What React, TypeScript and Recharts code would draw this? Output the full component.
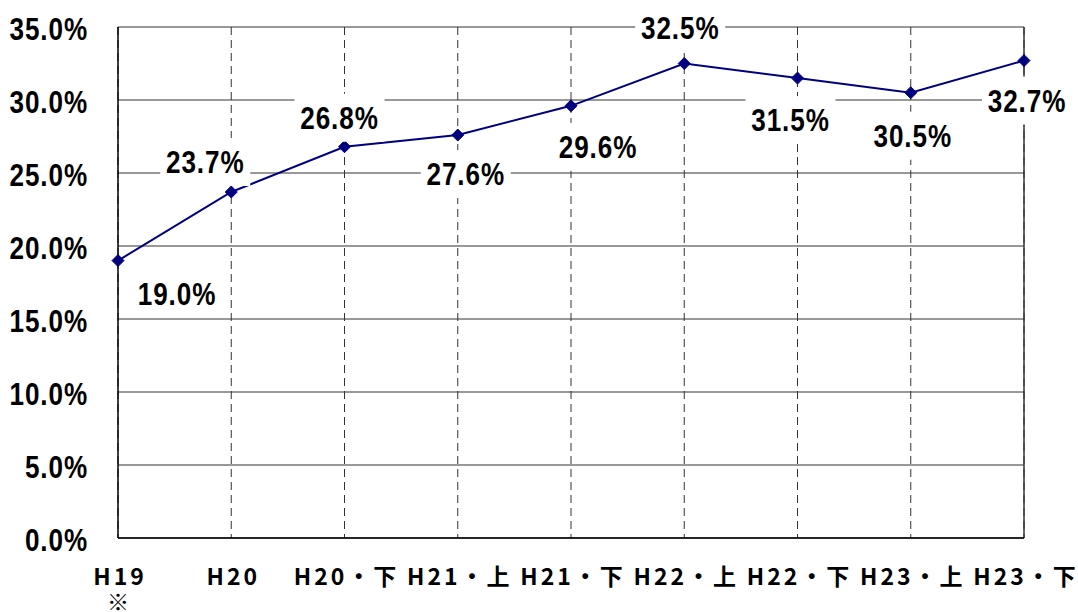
import { LineChart, Line, XAxis, YAxis, CartesianGrid, ReferenceLine } from "recharts";

const categories = ["H19", "H20", "H20・下", "H21・上", "H21・下", "H22・上", "H22・下", "H23・上", "H23・下"];
const notes = ["※", "", "", "", "", "", "", "", ""];
const rates = [19.0, 23.7, 26.8, 27.6, 29.6, 32.5, 31.5, 30.5, 32.7];
const yTicks = [0, 5, 10, 15, 20, 25, 30, 35];

// where each value label sits relative to its point (dx, dy)
const labelOffsets = [
    [59, 33],
    [-26, -30],
    [-5, -29],
    [8, 39],
    [27, 41],
    [-4, -35],
    [-7, 42],
    [2, 43],
    [3, 40],
];

const NUM_FONT = "'Liberation Sans', Arial, sans-serif";
const TICK_FONT = "'Noto Sans CJK JP', 'DejaVu Sans', sans-serif";

const data = categories.map((c, i) => ({ name: c, rate: rates[i] }));

const pct = (v: number) => `${v.toFixed(1)}%`;

// bold figures, squeezed a little sideways like the original
function NarrowText({ x, y, anchor, children }: { x: number; y: number; anchor: "start" | "middle" | "end"; children: string }) {
    return (
        <text
            transform={`translate(${x},${y}) scale(0.9,1.05)`}
            dy="0.36em"
            textAnchor={anchor}
            fontFamily={NUM_FONT}
            fontWeight="bold"
            fontSize={29}
            letterSpacing={1}
            fill="#000"
        >
            {children}
        </text>
    );
}

function Diamond(props: any) {
    const { cx, cy } = props;
    if (cx == null || cy == null) return null;
    const r = 6;
    return (
        <polygon
            points={`${cx},${cy - r} ${cx + r},${cy} ${cx},${cy + r} ${cx - r},${cy}`}
            fill="#000080"
            stroke="#000080"
        />
    );
}

function ValueLabel(props: any) {
    const { x, y, value, index } = props;
    const [dx, dy] = labelOffsets[index] || [0, -30];
    const cx = x + dx;
    const cy = y + dy;
    return (
        <g>
            <rect x={cx - 45} y={cy - 24} width={90} height={48} fill="#fff" />
            <NarrowText x={cx} y={cy} anchor="middle">
                {pct(Number(value))}
            </NarrowText>
        </g>
    );
}

function YTick(props: any) {
    const { x, y, payload } = props;
    return (
        <NarrowText x={x} y={y + 2} anchor="end">
            {pct(payload.value)}
        </NarrowText>
    );
}

function XTick(props: any) {
    const { x, y, payload, index } = props;
    const note = notes[index];
    return (
        <g transform={`translate(${x},${y})`}>
            <text
                x={2}
                y={47}
                textAnchor="middle"
                fontFamily={TICK_FONT}
                fontWeight="bold"
                fontSize={23}
                letterSpacing={3}
                fill="#000"
            >
                {payload.value}
            </text>
            {note && (
                <text y={72} textAnchor="middle" fontFamily={TICK_FONT} fontWeight="bold" fontSize={22} fill="#000">
                    {note}
                </text>
            )}
        </g>
    );
}

export default function App() {
    return (
        <div style={{ position: "absolute", left: 0, top: 0, width: 1078, height: 612, background: "#fff" }}>
            <LineChart width={1078} height={612} data={data} margin={{ top: 27, right: 54, bottom: 0, left: 0 }}>
                <CartesianGrid vertical={false} stroke="#333" strokeWidth={1} />
                <CartesianGrid horizontal={false} stroke="#333" strokeDasharray="8 5" strokeWidth={1} />
                <XAxis
                    dataKey="name"
                    scale="point"
                    padding={{ left: 0, right: 0 }}
                    height={74}
                    tickLine={false}
                    tickSize={0}
                    tickMargin={0}
                    axisLine={{ stroke: "#000", strokeWidth: 1.5 }}
                    tick={<XTick />}
                    interval={0}
                />
                <YAxis
                    domain={[0, 35]}
                    ticks={yTicks}
                    width={118}
                    tickLine={false}
                    tickSize={0}
                    tickMargin={30}
                    axisLine={{ stroke: "#000", strokeWidth: 1.5 }}
                    tick={<YTick />}
                />
                <ReferenceLine x={categories[categories.length - 1]} stroke="#333" strokeWidth={1.5} />
                <Line
                    type="linear"
                    dataKey="rate"
                    stroke="#000080"
                    strokeWidth={2}
                    dot={<Diamond />}
                    activeDot={false}
                    label={<ValueLabel />}
                    isAnimationActive={false}
                />
            </LineChart>
        </div>
    );
}
